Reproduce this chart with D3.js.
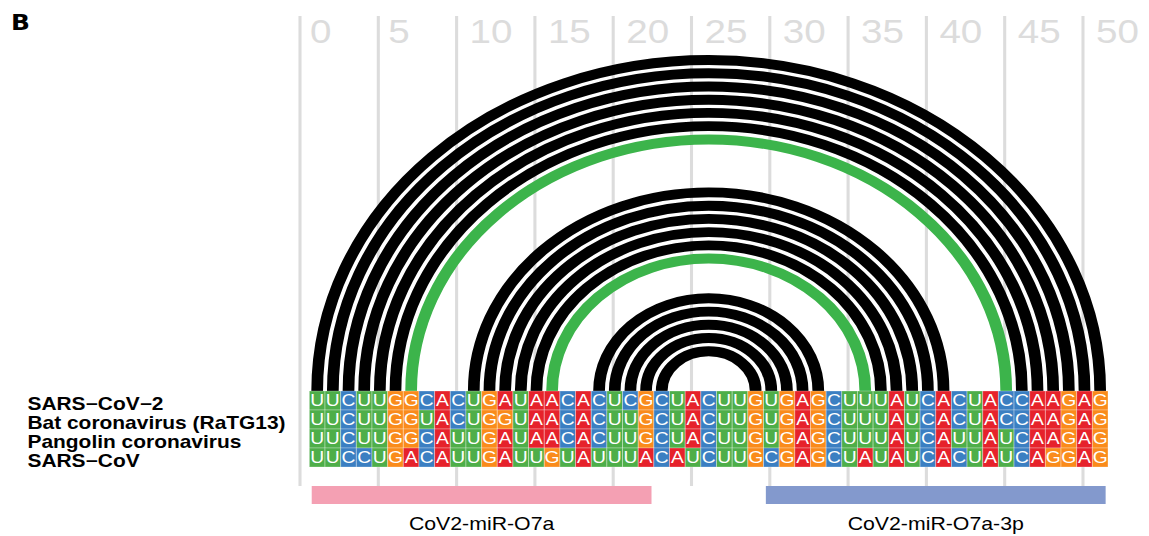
<!DOCTYPE html>
<html>
<head>
<meta charset="utf-8">
<script src="https://cdn.jsdelivr.net/npm/d3@7"></script>
<style>
  html, body { margin: 0; padding: 0; background: #ffffff; }
  svg { display: block; }
</style>
</head>
<body>
<svg id="chart" width="1149" height="536"></svg>
<script>
// ---------------- data ----------------
const species = ["SARS\u2212CoV\u22122", "Bat coronavirus (RaTG13)", "Pangolin coronavirus", "SARS\u2212CoV"];
const sequences = [
  "UUCUUGGCACUGAUAACACUCGCUACUUGUGAGCUUUAUCACUACCAAGAG",
  "UUCUUGGUACUGGUAACACUUGCUACUUGUGAGCUUUAUCACUACCAAGAG",
  "UUCUUGGCAUUGAUAACACUUGCUACUUGUGAGCUUUAUCAUUAUCAAGAG",
  "UUCCUGACAUUGAUUGUAUUUACAUCUUGCGAGCUAUAUCACUAUCAGGAG"
];
const tickValues = [0, 5, 10, 15, 20, 25, 30, 35, 40, 45, 50];
const arcLeft      = [0, 1, 2, 3, 4, 5, 6, 10, 11, 12, 13, 14, 15, 18, 19, 20, 21, 22];
const arcRight     = [50, 49, 48, 47, 46, 45, 44, 40, 39, 38, 37, 36, 35, 32, 31, 30, 29, 28];
const arcHighlight = [0, 0, 0, 0, 0, 0, 1, 0, 0, 0, 0, 0, 1, 0, 0, 0, 0, 0];
const mirNames = ["CoV2-miR-O7a", "CoV2-miR-O7a-3p"];
const mirStart = [0, 29];
const mirEnd   = [21, 50];
const panelLabel = "B";

// ---------------- layout ----------------
const SX = 1.183;              // horizontal stretch of the whole figure
const nPos = sequences[0].length;
const x = d3.scaleLinear().domain([0, nPos]).range([261.5, 936.6]);
const cellW = x(1) - x(0);
const rowTop = 391, rowH = 19;
const y = d3.scaleBand().domain(d3.range(species.length)).range([rowTop, rowTop + rowH * species.length]);
const nucColor = d3.scaleOrdinal().domain(["A", "C", "G", "U"]).range(["#e6222b", "#3b7fc2", "#fa8b1b", "#4eae49"]);
const gridOffset = -7.9;

const svg = d3.select("#chart");
svg.append("rect").attr("width", 1149).attr("height", 536).attr("fill", "#ffffff");
const g = svg.append("g").attr("transform", `scale(${SX},1)`);

// grid lines + tick labels
const ticks = g.append("g");
ticks.selectAll("line").data(tickValues).join("line")
  .attr("x1", d => x(d) + gridOffset).attr("x2", d => x(d) + gridOffset)
  .attr("y1", 16).attr("y2", 486)
  .attr("stroke", "#dcdcdc").attr("stroke-width", 2.6);
ticks.selectAll("text").data(tickValues).join("text")
  .attr("x", d => x(d) + gridOffset + (String(d).length === 1 ? 8.5 : 11))
  .attr("y", 43)
  .attr("font-family", "Liberation Sans, Arial, sans-serif")
  .attr("font-size", 32.6)
  .attr("fill", "#dcdcdc")
  .text(d => d);

// arcs
const arcData = arcLeft.map((l, i) => ({l, r: arcRight[i], hi: arcHighlight[i]}));
g.append("g").selectAll("path").data(arcData).join("path")
  .attr("d", d => {
    const cx = (x(d.l + 0.5) + x(d.r + 0.5)) / 2;
    const rad = (x(d.r + 0.5) - x(d.l + 0.5)) / 2;
    const p = d3.path();
    p.arc(cx, rowTop, rad, Math.PI, 2 * Math.PI);
    return p.toString();
  })
  .attr("fill", "none")
  .attr("stroke", d => d.hi ? "#3cb44b" : "#000000")
  .attr("stroke-width", 9.9);

// tiles
const cells = [];
sequences.forEach((s, r) => s.split("").forEach((nt, i) => cells.push({r, i, nt})));
const tiles = g.append("g");
tiles.selectAll("rect").data(cells).join("rect")
  .attr("x", d => x(d.i)).attr("y", d => y(d.r))
  .attr("width", cellW).attr("height", y.bandwidth())
  .attr("fill", d => nucColor(d.nt))
  .attr("stroke", "rgba(255,255,255,0.35)").attr("stroke-width", 0.8);
tiles.selectAll("text").data(cells).join("text")
  .attr("x", d => x(d.i + 0.5)).attr("y", d => y(d.r) + y.bandwidth() / 2 + 5.9)
  .attr("text-anchor", "middle")
  .attr("font-family", "Liberation Sans, Arial, sans-serif")
  .attr("font-size", 16.3)
  .attr("fill", "#ffffff")
  .text(d => d.nt);

// species labels
g.append("g").selectAll("text").data(species).join("text")
  .attr("x", 23.2).attr("y", (d, i) => y(i) + y.bandwidth() / 2 + 10)
  .attr("font-family", "Liberation Sans, Arial, sans-serif")
  .attr("font-weight", "bold")
  .attr("font-size", 17.7)
  .attr("fill", "#000000")
  .text(d => d);

// miRNA bars
const mirColors = ["#f4a0b3", "#8399cd"];
const mir = mirNames.map((n, i) => ({n, s: mirStart[i], e: mirEnd[i], c: mirColors[i]}));
g.append("g").selectAll("rect").data(mir).join("rect")
  .attr("x", d => x(d.s) + 2).attr("width", d => x(d.e + 1) - x(d.s) - 4)
  .attr("y", 486).attr("height", 18)
  .attr("fill", d => d.c);
g.append("g").selectAll("text").data(mir).join("text")
  .attr("x", d => (x(d.s) + x(d.e + 1)) / 2).attr("y", 530)
  .attr("text-anchor", "middle")
  .attr("font-family", "Liberation Sans, Arial, sans-serif")
  .attr("font-size", 18)
  .attr("fill", "#000000")
  .text(d => d.n);

// panel label
g.append("text").attr("x", 9.4).attr("y", 30)
  .attr("font-family", "DejaVu Sans, Liberation Sans, Arial, sans-serif")
  .attr("font-weight", "bold").attr("font-size", 21)
  .text(panelLabel);
</script>
</body>
</html>
